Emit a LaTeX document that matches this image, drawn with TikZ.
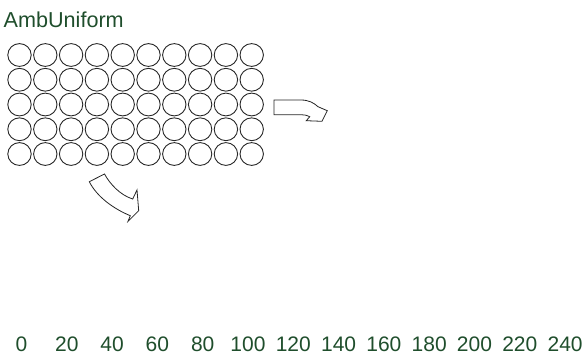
\documentclass[tikz,border=0pt]{standalone}
\usepackage{fontspec}
\setmainfont{Liberation Sans}
\usepackage{tikz}
\definecolor{labelgreen}{HTML}{1F4E2C}
\tikzset{
	label text/.style={text=labelgreen, inner sep=0pt, anchor=base, font=\fontsize{21}{24}\selectfont},
	ring/.style={line width=0.9pt, color=black!85},
	bend arrow/.style={line width=0.8pt, color=black!85, line join=miter}
}

\begin{document}
\begin{tikzpicture}[x=1pt, y=-1pt]
			%%%%% START %%%%%
			
			\useasboundingbox (0, 0) rectangle (588, 360);
			
			\node[label text, anchor=base west, font=\fontsize{21.6}{24}\selectfont] (title) at (3.5, 27.3) {AmbUniform};
			
			\foreach \row in {0,...,4}
				\foreach \col in {0,...,9}
					\draw[ring] (19.5+25.8*\col, 55+24.75*\row) ellipse (11.7 and 11.4);
			
			\draw[bend arrow] (274, 100) -- (301, 100) .. controls (309, 100) and (314, 103) .. (318, 106.7)
				-- (327.3, 110.7) -- (322, 121.3) -- (306.3, 120.7) -- (309.7, 116.7)
				.. controls (306, 115) and (304, 114.7) .. (301, 114.7) -- (274, 114.7) -- cycle;
			
			\draw[bend arrow] (89.3, 181.7) -- (104.5, 174) .. controls (110, 184) and (120, 195) .. (132.7, 199)
				-- (137, 190) -- (138.7, 210.7) -- (128, 221.3) -- (130.3, 215.7)
				.. controls (114, 209) and (97, 197) .. (89.3, 181.7) -- cycle;
			
			\foreach \val [count=\i from 0] in {0,20,...,240}
				\node[label text] (tick\val) at (21.5+45.3*\i, 351.5) {\val};
			
			%%%%% END %%%%%
\end{tikzpicture}
\end{document}
